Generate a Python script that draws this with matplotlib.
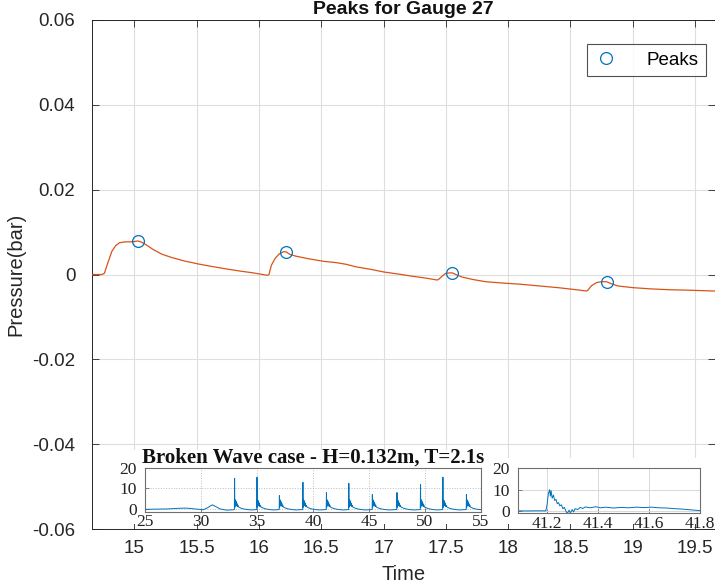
import numpy as np
import matplotlib
matplotlib.use("Agg")
import matplotlib.pyplot as plt
from matplotlib.patches import Rectangle

# ---- main gauge record (time in s, pressure in bar) ----
time_s = [14.66, 14.74, 14.76, 14.79, 14.82, 14.85, 14.88, 14.93, 14.98, 15.03,
          15.06, 15.10, 15.15, 15.22, 15.30, 15.40, 15.51, 15.62, 15.72, 15.85,
          15.95, 16.07, 16.08, 16.10, 16.13, 16.16, 16.20, 16.22, 16.25, 16.30,
          16.40, 16.52, 16.62, 16.70, 16.78, 16.90, 17.00, 17.12, 17.23, 17.35,
          17.43, 17.44, 17.47, 17.50, 17.55, 17.58, 17.63, 17.72, 17.82, 17.95,
          18.10, 18.25, 18.40, 18.55, 18.63, 18.64, 18.67, 18.71, 18.75, 18.79,
          18.83, 18.88, 19.00, 19.15, 19.30, 19.45, 19.66]
pressure_bar = [0.0000, 0.0000, 0.0003, 0.0030, 0.0055, 0.0068, 0.0075, 0.0077, 0.0077, 0.0079,
                0.0076, 0.0069, 0.0059, 0.0048, 0.0040, 0.0032, 0.0025, 0.0019, 0.0014, 0.0008,
                0.0004, -0.0002, 0.0000, 0.0022, 0.0038, 0.0048, 0.0054, 0.0053, 0.0047, 0.0043,
                0.0037, 0.0031, 0.0028, 0.0024, 0.0018, 0.0012, 0.0006, 0.0001, -0.0004, -0.0009,
                -0.0013, -0.0012, -0.0004, 0.0003, 0.0004, 0.0000, -0.0006, -0.0012, -0.0017, -0.0020,
                -0.0023, -0.0027, -0.0031, -0.0036, -0.0039, -0.0037, -0.0026, -0.0019, -0.0017, -0.0017,
                -0.0022, -0.0027, -0.0031, -0.0034, -0.0036, -0.0037, -0.0039]

peak_time = [15.03, 16.22, 17.55, 18.79]
peak_pressure = [0.0079, 0.0053, 0.0004, -0.0017]

x_ticks = [15, 15.5, 16, 16.5, 17, 17.5, 18, 18.5, 19, 19.5]
x_tick_labels = ["15", "15.5", "16", "16.5", "17", "17.5", "18", "18.5", "19", "19.5"]
y_ticks = [-0.06, -0.04, -0.02, 0, 0.02, 0.04, 0.06]
y_tick_labels = ["-0.06", "-0.04", "-0.02", "0", "0.02", "0.04", "0.06"]

# ---- broken wave record (inset 1) ----
bw_lead_t = [25.0, 26.0, 27.0, 28.0, 28.7, 29.5, 30.2, 30.6, 31.0, 31.3, 31.7, 32.3, 32.9]
bw_lead_v = [-0.2, -0.1, 0.0, 0.3, 0.4, 0.0, -0.4, 0.6, 2.0, 1.2, 0.0, -0.6, -0.4]
spike_t = [33.0, 35.0, 37.0, 39.1, 41.2, 43.2, 45.3, 47.5, 49.6, 51.6, 53.7]
spike_h = [15.0, 15.5, 6.5, 13.0, 8.0, 12.5, 7.0, 8.0, 12.0, 15.5, 7.0]
# shape of the pressure burst that follows each spike (offset s, level)
burst_dt = [-0.02, 0.0, 0.02, 0.04, 0.06, 0.08, 0.10, 0.12, 0.14, 0.16, 0.19,
            0.22, 0.26, 0.30, 0.36, 0.45, 0.60, 0.80, 1.10, 1.50]
burst_v = [-0.3, None, 0.8, 4.5, 1.5, 4.2, 1.8, 3.8, 1.6, 3.2, 1.5,
           2.6, 1.2, 1.8, 0.9, 0.7, 0.3, 0.0, -0.3, -0.5]
bw_tail_t = [55.0]
bw_tail_v = [-0.3]

# ---- single impact detail (inset 2) ----
imp_t = [41.086, 41.12, 41.16, 41.195, 41.200, 41.205, 41.210, 41.213, 41.216, 41.220,
         41.225, 41.230, 41.235, 41.240, 41.245, 41.250, 41.256, 41.262, 41.268, 41.274,
         41.280, 41.286, 41.292, 41.298, 41.304, 41.31, 41.32, 41.33, 41.34, 41.35,
         41.37, 41.39, 41.41, 41.43, 41.46, 41.49, 41.52, 41.55, 41.58, 41.61,
         41.64, 41.67, 41.70, 41.73, 41.76, 41.79, 41.80]
imp_v = [0.2, 0.15, 0.2, 0.2, 3.0, 8.0, 10.0, 7.0, 9.5, 6.0,
         7.5, 5.0, 5.5, 3.5, 4.0, 2.5, 3.0, 1.2, 1.8, 0.0,
         -1.0, 0.5, -0.8, 0.8, -0.3, 1.2, 0.8, 1.8, 1.3, 2.0,
         1.6, 2.1, 1.6, 1.9, 1.5, 1.8, 1.6, 1.9, 1.7, 1.9,
         1.6, 1.5, 1.2, 1.0, 0.7, 0.4, 0.3]

ORANGE = "#D95319"
BLUE = "#0072BD"
W, H = 715, 584

fig = plt.figure(figsize=(W / 100, H / 100), dpi=100)


def px_rect(left, top, right, bottom):
    """Figure-fraction rectangle from pixel edges (origin top-left)."""
    return [left / W, 1 - bottom / H, (right - left) / W, (bottom - top) / H]


plt.rcParams["font.family"] = ["Liberation Sans", "DejaVu Sans"]

AX_L, AX_T, AX_R, AX_B = 92, 20, 715, 529
ax = fig.add_axes(px_rect(AX_L, AX_T, AX_R, AX_B))
ax.plot(time_s, pressure_bar, color=ORANGE, lw=0.9, zorder=3)
ax.plot(peak_time, peak_pressure, ls="none", marker="o", ms=8.5, mfc="none",
        mec=BLUE, mew=0.9, label="Peaks", zorder=4)
ax.set_xlim(14.66, 19.66)
ax.set_ylim(-0.06, 0.06)
ax.set_xticks(x_ticks)
ax.set_xticklabels(x_tick_labels)
ax.set_yticks(y_ticks)
ax.set_yticklabels(y_tick_labels)
ax.grid(True, color="#dedede", lw=0.8)
ax.set_axisbelow(True)
ax.tick_params(direction="in", length=5, width=0.6, color="#262626",
               labelsize=13.5, labelcolor="#262626", top=True, right=True)
ax.tick_params(axis="x", pad=8)
ax.tick_params(axis="y", pad=12)
for s in ax.spines.values():
    s.set_color("#262626")
    s.set_linewidth(0.7)
ax.set_title("Peaks for Gauge 27", fontsize=14, fontweight="bold", color="#111111", pad=4)
ax.set_xlabel("Time", fontsize=14.5, color="#262626", labelpad=6)
ax.set_ylabel("Pressure(bar)", fontsize=14.5, color="#262626", labelpad=5)
leg = ax.legend(loc="upper right",
                bbox_to_anchor=((706 - AX_L) / (AX_R - AX_L), (AX_B - 44) / (AX_B - AX_T)),
                borderaxespad=0, fontsize=13.5, frameon=True, fancybox=False,
                handletextpad=1.5, borderpad=0.4, handlelength=1.3)
leg.get_frame().set_edgecolor("#262626")
leg.get_frame().set_linewidth(0.8)

# white backing for the embedded inset panels
for (l, t, r, b) in [(100, 450, 483, 524), (484, 458, 711, 524)]:
    fig.patches.append(Rectangle((l / W, 1 - b / H), (r - l) / W, (b - t) / H,
                                 transform=fig.transFigure, facecolor="white",
                                 edgecolor="none", zorder=5))

serif = ["Liberation Serif", "DejaVu Serif"]

# ---- inset 1: full broken-wave series ----
bt = list(bw_lead_t)
bv = list(bw_lead_v)
for t0, h in zip(spike_t, spike_h):
    for dt, v in zip(burst_dt, burst_v):
        bt.append(t0 + dt)
        bv.append(h if v is None else v)
bt += bw_tail_t
bv += bw_tail_v
order = np.argsort(bt)
bt = np.asarray(bt)[order]
bv = np.asarray(bv)[order]

ax1 = fig.add_axes(px_rect(145, 468, 481, 512), zorder=6)
ax1.plot(bt, bv, color=BLUE, lw=0.7)
ax1.set_xlim(25, 55)
ax1.set_ylim(-1.5, 20)
ax1.set_xticks([25, 30, 35, 40, 45, 50, 55])
ax1.set_yticks([0, 10, 20])
ax1.grid(True, ls=":", color="#bdbdbd", lw=0.7)
ax1.tick_params(direction="in", length=3, width=0.5, labelsize=12.5,
                labelcolor="#222222", color="#555555")
ax1.tick_params(axis="x", pad=1.5)
ax1.tick_params(axis="y", pad=6)
for lab in ax1.get_xticklabels() + ax1.get_yticklabels():
    lab.set_family(serif)
for s in ax1.spines.values():
    s.set_color("#6e6e6e")
    s.set_linewidth(0.8)
ax1.set_title("Broken Wave case - H=0.132m, T=2.1s", fontsize=15, fontweight="bold",
              family=serif, pad=1, color="#111111")

# ---- inset 2: zoom on one impact ----
ax2 = fig.add_axes(px_rect(518, 468, 700, 513), zorder=6)
ax2.plot(imp_t, imp_v, color=BLUE, lw=0.7)
ax2.set_xlim(41.086, 41.8)
ax2.set_ylim(-0.8, 20)
ax2.set_xticks([41.2, 41.4, 41.6, 41.8])
ax2.set_xticklabels(["41.2", "41.4", "41.6", "41.8"])
ax2.set_yticks([0, 10, 20])
ax2.grid(True, color="#d8d8d8", lw=0.7)
ax2.tick_params(direction="in", length=3, width=0.5, labelsize=12.5,
                labelcolor="#222222", color="#555555")
ax2.tick_params(axis="x", pad=2)
ax2.tick_params(axis="y", pad=6)
for lab in ax2.get_xticklabels() + ax2.get_yticklabels():
    lab.set_family(serif)
for s in ax2.spines.values():
    s.set_color("#6e6e6e")
    s.set_linewidth(0.8)

fig.savefig("out.png", dpi=100)
